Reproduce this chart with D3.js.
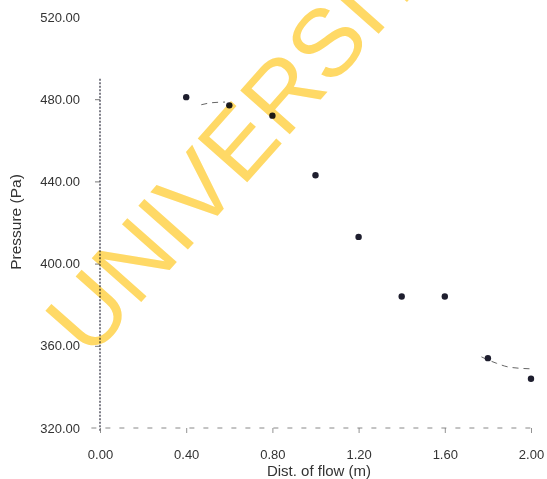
<!DOCTYPE html>
<html>
<head>
<meta charset="utf-8">
<script src="https://cdn.jsdelivr.net/npm/d3@7/dist/d3.min.js"></script>
<style>
  html, body { margin: 0; padding: 0; background: #ffffff; }
  svg { display: block; }
  text { font-family: "Liberation Sans", Arial, Helvetica, sans-serif; }
</style>
</head>
<body>
<svg id="chart" width="547" height="479"></svg>
<script>
// Measured pressure along the flow path
const distance = [0.40, 0.60, 0.80, 1.00, 1.20, 1.40, 1.60, 1.80, 2.00];
const pressure = [481, 477, 472, 443, 413, 384, 384, 354, 344];

// Surviving pieces of the fitted trend curve (dashed)
const fitPieceA = [[0.47, 477.3], [0.52, 478.3], [0.58, 478.6]];
const fitPieceB = [[1.77, 354.6], [1.84, 351.5], [1.90, 349.6], [2.00, 348.8]];

const xTicks = [0.00, 0.40, 0.80, 1.20, 1.60, 2.00];
const yTicks = [320, 360, 400, 440, 480, 520];

const xLabel = "Dist. of flow (m)";
const yLabel = "Pressure (Pa)";
const stamp = "UNIVERSITY";

const svg = d3.select("#chart");

const x = d3.scaleLinear().domain([0, 2]).range([100, 531]);
const y = d3.scaleLinear().domain([320, 520]).range([428, 17]);

// Y axis
const yAxis = svg.append("g")
  .attr("transform", `translate(${x(0)},0)`)
  .call(d3.axisLeft(y).tickValues(yTicks).tickSize(5).tickFormat(d3.format(".2f")).tickPadding(15));
yAxis.select(".domain")
  .attr("d", `M0,${y(490)}V${y(318)}`)
  .attr("stroke", "#2a2a3a")
  .attr("stroke-width", 1.2)
  .attr("stroke-dasharray", "2,1.5");
yAxis.selectAll(".tick line").attr("stroke", "#555").attr("stroke-width", 1)
  .attr("opacity", d => (d === 320 || d === 520) ? 0 : 0.8);
yAxis.selectAll(".tick text")
  .attr("fill", "#333")
  .attr("font-size", 13)
  .attr("font-family", "Liberation Sans, Arial, sans-serif");

// X axis
const xAxis = svg.append("g")
  .attr("transform", `translate(0,${y(320)})`)
  .call(d3.axisBottom(x).tickValues(xTicks).tickSize(5).tickFormat(d3.format(".2f")).tickPadding(17));
xAxis.select(".domain")
  .attr("d", `M${x(-0.04)},0H${x(2.0)}V-6`)
  .attr("stroke", "#888")
  .attr("stroke-width", 1)
  .attr("stroke-dasharray", "5,9");
xAxis.selectAll(".tick line").attr("stroke", "#777").attr("opacity", 0.8);
xAxis.selectAll(".tick text")
  .attr("fill", "#333")
  .attr("font-size", 13)
  .attr("font-family", "Liberation Sans, Arial, sans-serif");

// Axis titles
svg.append("text")
  .attr("x", 319).attr("y", 476)
  .attr("text-anchor", "middle")
  .attr("font-size", 15)
  .attr("fill", "#333")
  .text(xLabel);

svg.append("text")
  .attr("transform", "translate(21,222) rotate(-90)")
  .attr("text-anchor", "middle")
  .attr("font-size", 15.5)
  .attr("fill", "#333")
  .text(yLabel);

// Trend curve fragments
const line = d3.line().x(d => x(d[0])).y(d => y(d[1])).curve(d3.curveMonotoneX);
[fitPieceA, fitPieceB].forEach(p => {
  svg.append("path")
    .attr("d", line(p))
    .attr("fill", "none")
    .attr("stroke", "#666")
    .attr("stroke-width", 1)
    .attr("stroke-dasharray", "6,5");
});

// Data points
svg.append("g").selectAll("circle")
  .data(distance.map((d, i) => [d, pressure[i]]))
  .join("circle")
  .attr("cx", d => x(d[0]))
  .attr("cy", d => y(d[1]))
  .attr("r", 3.2)
  .attr("fill", "#1e1e2e");

// Diagonal stamp laid over the plot
svg.append("text")
  .attr("transform", "translate(90,360) rotate(-48.5)")
  .attr("font-size", 96)
  .attr("fill", "#ffd966")
  .style("mix-blend-mode", "multiply")
  .text(stamp);
</script>
</body>
</html>
